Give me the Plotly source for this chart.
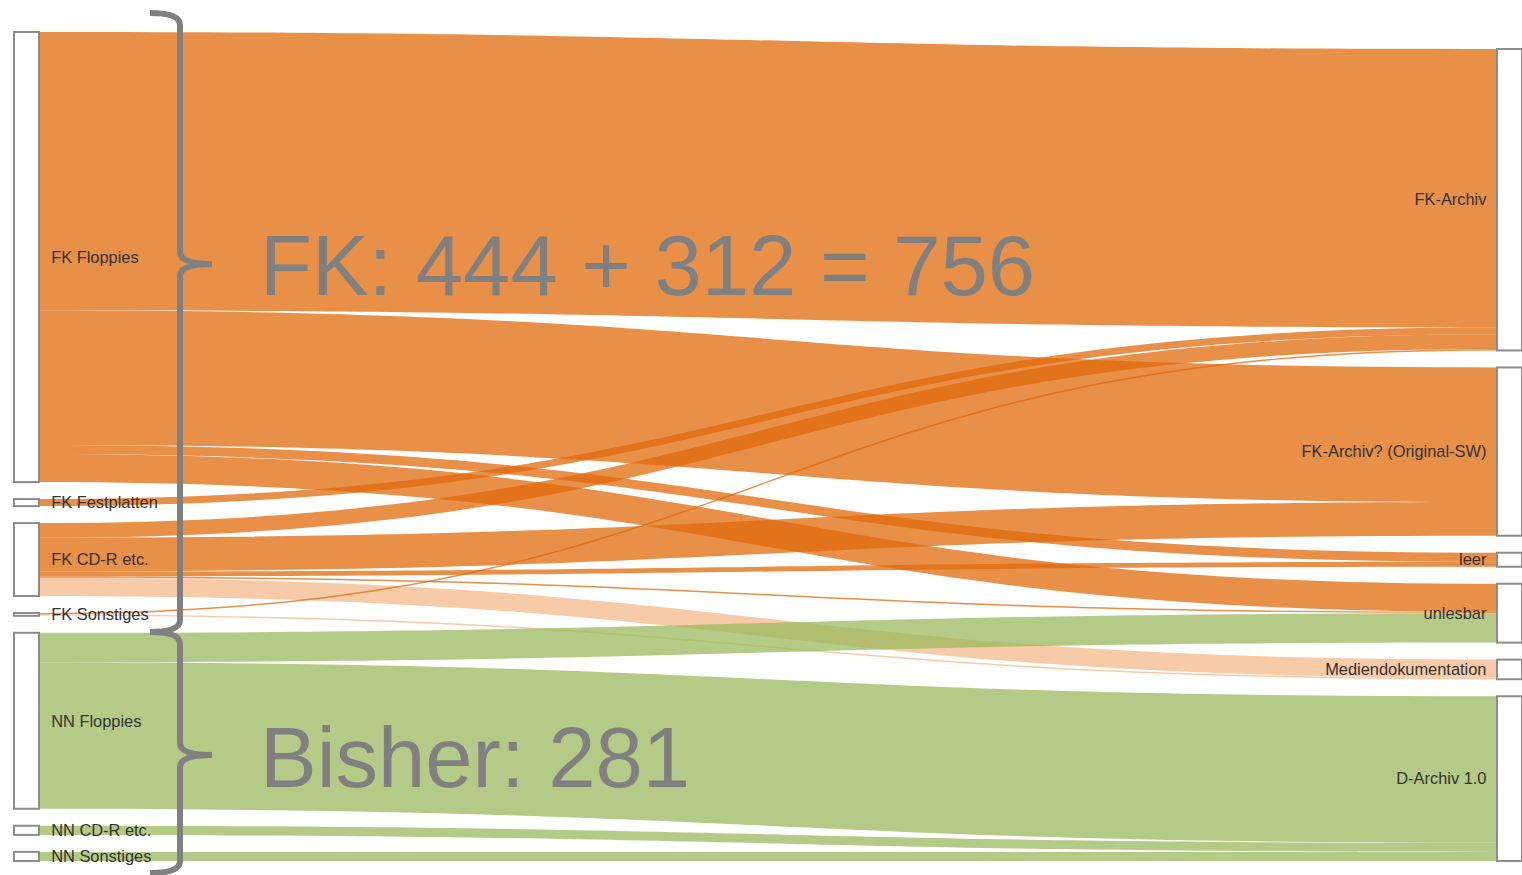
import plotly.graph_objects as go

W, H = 1522, 875

node_labels = ["FK Floppies", "FK Festplatten", "FK CD-R etc.", "FK Sonstiges",
               "NN Floppies", "NN CD-R etc.", "NN Sonstiges",
               "FK-Archiv", "FK-Archiv? (Original-SW)", "leer", "unlesbar",
               "Mediendokumentation", "D-Archiv 1.0"]
left_nodes = node_labels[:7]

link_source = ["FK Floppies", "FK Floppies", "FK Floppies", "FK Floppies",
               "FK Festplatten",
               "FK CD-R etc.", "FK CD-R etc.", "FK CD-R etc.", "FK CD-R etc.", "FK CD-R etc.",
               "FK Sonstiges", "FK Sonstiges",
               "NN Floppies", "NN Floppies", "NN CD-R etc.", "NN Sonstiges"]
link_target = ["FK-Archiv", "FK-Archiv? (Original-SW)", "leer", "unlesbar",
               "FK-Archiv",
               "FK-Archiv", "FK-Archiv? (Original-SW)", "leer", "unlesbar", "Mediendokumentation",
               "FK-Archiv", "Mediendokumentation",
               "unlesbar", "D-Archiv 1.0", "D-Archiv 1.0", "D-Archiv 1.0"]
link_value = [397, 192, 13, 40,
              10,
              21, 48, 7, 2, 26,
              2, 2,
              42, 209, 13, 13]
link_kind = ["fk", "fk", "fk", "fk",
             "fk",
             "fk", "fk", "fk", "fk", "doc",
             "fk", "doc",
             "nn", "nn", "nn", "nn"]

annotation_texts = ["FK: 444 + 312 = 756", "Bisher: 281"]

kind_color = {"fk": "rgba(224,106,11,0.75)",
              "doc": "rgba(246,186,139,0.75)",
              "nn": "rgba(154,186,94,0.75)"}

idx = {n: i for i, n in enumerate(node_labels)}
shown_labels = [("\u2002" + n) if n in left_nodes else (n + "\u2009\u2009") for n in node_labels]

fig = go.Figure(go.Sankey(
    domain=dict(x=[14 / W, 1.0], y=[1 - 861 / H, 1 - 32 / H]),
    arrangement="snap",
    node=dict(label=shown_labels, pad=17, thickness=25,
              color="white", line=dict(color="#8c8c8c", width=2)),
    link=dict(source=[idx[s] for s in link_source],
              target=[idx[t] for t in link_target],
              value=link_value,
              color=[kind_color[k] for k in link_kind]),
    textfont=dict(family="Arial, Liberation Sans, sans-serif", size=16.4, color="#333333",
                  shadow="none"),
))


def px(x, y):
    return f"{x / W:.5f},{1 - y / H:.5f}"


def brace(x_end, x_line, x_tip, y_top, y_mid, y_bot, r=12):
    return (f"M {px(x_end, y_top)} Q {px(x_line, y_top)} {px(x_line, y_top + r)} "
            f"L {px(x_line, y_mid - r)} Q {px(x_line, y_mid)} {px(x_tip, y_mid)} "
            f"Q {px(x_line, y_mid)} {px(x_line, y_mid + r)} "
            f"L {px(x_line, y_bot - r)} Q {px(x_line, y_bot)} {px(x_end, y_bot)}")


for (yt, ym, yb) in [(13, 264, 632), (632, 755, 873)]:
    fig.add_shape(type="path", xref="paper", yref="paper", layer="above",
                  path=brace(150, 180, 212, yt, ym, yb),
                  line=dict(color="#808080", width=6))

for txt, yc in zip(annotation_texts, [265, 757]):
    fig.add_annotation(text=txt, xref="paper", yref="paper", x=258 / W, y=1 - yc / H,
                       xanchor="left", yanchor="middle", showarrow=False,
                       font=dict(family="Arial, Liberation Sans, sans-serif", size=85, color="#808080"))

fig.update_layout(width=W, height=H, margin=dict(l=0, r=0, t=0, b=0),
                  paper_bgcolor="white", plot_bgcolor="white")

fig.write_html("out.html", config={"displayModeBar": False},
               post_script="document.body.style.margin='0';document.body.style.overflow='hidden';")
